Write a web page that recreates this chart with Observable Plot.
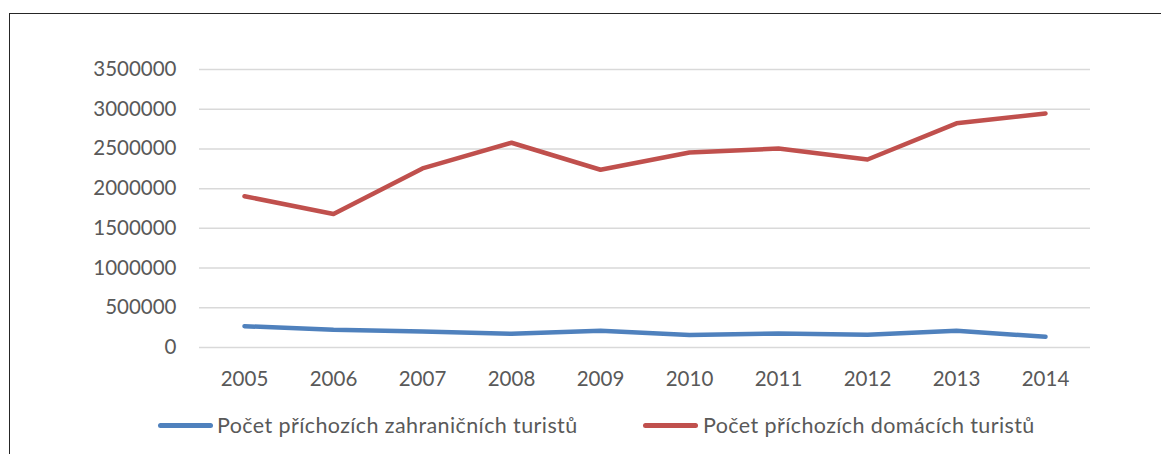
<!DOCTYPE html>
<html>
<head>
<meta charset="utf-8">
<script src="https://cdn.jsdelivr.net/npm/d3@7"></script>
<script src="https://cdn.jsdelivr.net/npm/@observablehq/plot@0.6"></script>
<style>
  html, body { margin: 0; padding: 0; background: #fff; width: 1161px; height: 454px; overflow: hidden; font-family: Lato, "Open Sans", sans-serif; }
  #frame { position: absolute; left: 9px; top: 13px; width: 1160px; height: 460px; border-top: 1px solid #262626; border-left: 1px solid #262626; box-sizing: border-box; }
  #chart { position: absolute; left: 0; top: 0; }
  .leg { position: absolute; top: 411px; font-size: 21.5px; letter-spacing: 0.4px; color: #595959; white-space: nowrap; line-height: 28px; }
  .sw { position: absolute; height: 5px; border-radius: 3px; top: 423px; }
</style>
</head>
<body>
<div id="frame"></div>
<div id="chart"></div>
<div id="legend"></div>
<script>
const years = ["2005","2006","2007","2008","2009","2010","2011","2012","2013","2014"];
const foreignTourists = [268000, 222000, 201000, 172000, 212000, 157000, 176000, 160000, 210000, 135000];
const domesticTourists = [1905000, 1680000, 2255000, 2578000, 2238000, 2455000, 2505000, 2367000, 2822000, 2947000];
const seriesNames = ["Počet příchozích zahraničních turistů", "Počet příchozích domácích turistů"];
const seriesColors = ["#4f81bd", "#c0504d"];
const yTicks = [0, 500000, 1000000, 1500000, 2000000, 2500000, 3000000, 3500000];

const rows = [];
years.forEach((y, i) => {
  rows.push({year: y, value: foreignTourists[i], series: seriesNames[0]});
  rows.push({year: y, value: domesticTourists[i], series: seriesNames[1]});
});

const plot = Plot.plot({
  width: 1161,
  height: 400,
  marginTop: 69,
  marginBottom: 53,
  marginLeft: 199,
  marginRight: 71,
  style: {fontFamily: "Lato, 'Open Sans', sans-serif", fontSize: "20px", color: "#595959", background: "transparent"},
  x: {type: "point", domain: years, padding: 0.5, label: null},
  y: {domain: [0, 3500000], label: null},
  color: {domain: seriesNames, range: seriesColors},
  marks: [
    Plot.gridY(yTicks, {stroke: "#d9d9d9", strokeOpacity: 1, strokeWidth: 1.5}),
    Plot.axisY(yTicks, {tickSize: 0, tickPadding: 23, tickFormat: d => String(d), fill: "#595959", fontSize: 20.5, label: null}),
    Plot.axisX(years, {tickSize: 0, tickPadding: 24, fill: "#595959", fontSize: 20.5, label: null}),
    Plot.line(rows, {x: "year", y: "value", z: "series", stroke: "series", strokeWidth: 4.5, strokeLinecap: "round", strokeLinejoin: "round"})
  ]
});
document.getElementById("chart").appendChild(plot);

const legend = document.getElementById("legend");
const legPos = [{sw: 158, text: 217}, {sw: 643, text: 703}];
seriesNames.forEach((name, i) => {
  const sw = document.createElement("div");
  sw.className = "sw";
  sw.style.left = legPos[i].sw + "px";
  sw.style.width = "55px";
  sw.style.background = seriesColors[i];
  legend.appendChild(sw);
  const t = document.createElement("div");
  t.className = "leg";
  t.style.left = legPos[i].text + "px";
  t.textContent = name;
  legend.appendChild(t);
});
</script>
</body>
</html>
